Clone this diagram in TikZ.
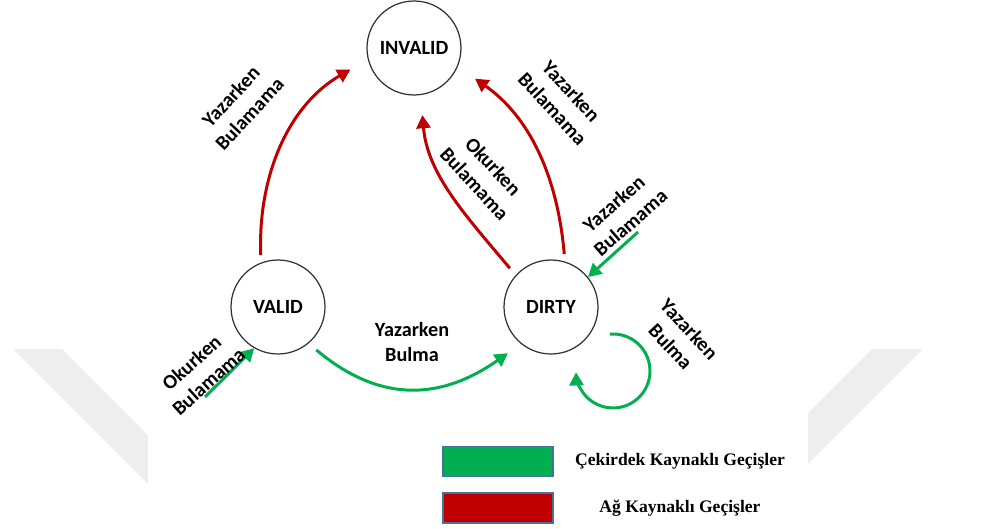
\documentclass[tikz,border=0pt]{standalone}
\usepackage{fontspec}
\setmainfont{Liberation Serif}
\newfontfamily\calib{Carlito}
\usetikzlibrary{arrows.meta,positioning}
\definecolor{netred}{RGB}{192,0,0}
\definecolor{coregreen}{RGB}{0,176,80}
\definecolor{legedge}{RGB}{65,113,156}
\definecolor{wmgray}{RGB}{238,238,238}

\begin{document}
\begin{tikzpicture}[
  x=0.02cm, y=0.02cm,
  statecirc/.style={circle, draw=black!80, line width=0.7pt, minimum size=1.88cm,
               inner sep=0pt, font=\calib\bfseries\fontsize{11.5}{13}\selectfont},
  lbl/.style={align=center, inner sep=0pt, font=\calib\bfseries\fontsize{11.5}{14.5}\selectfont},
  redarr/.style={-{Triangle[length=7.5pt, width=8pt]}, line width=1.7pt, netred},
  greenarr/.style={-{Triangle[length=7.5pt, width=8pt]}, line width=1.7pt, coregreen},
  legbox/.style={draw=legedge, line width=0.6pt, minimum width=2.2cm,
               minimum height=0.6cm, inner sep=0pt},
  legtext/.style={font=\bfseries\fontsize{10}{12}\selectfont}
]
  \useasboundingbox (0,0) rectangle (983,528);

  % watermark
  \fill[wmgray] (13,179) -- (62,179) -- (148,93) -- (148,44) -- cycle;
  \fill[wmgray] (872,179) -- (923,179) -- (808,64) -- (808,115) -- cycle;

  \node[statecirc] (invalid) at (414,480) {INVALID};
  \node[statecirc] (valid)   at (278,221) {VALID};
  \node[statecirc] (dirty)   at (551,221) {DIRTY};

  \coordinate (dirtyin) at (638,296);
  \coordinate (validin) at (205,131);
  \coordinate (loopc)   at (613,157);

  % network transitions
  \draw[redarr, shorten <=0.15cm, shorten >=0.4cm]
    (valid.111) to[out=92, in=210] (invalid.194);
  \draw[redarr, shorten <=0.15cm, shorten >=0.42cm]
    (dirty.73) to[out=95, in=-35] (invalid.-23);
  \draw[redarr, shorten <=0.18cm, shorten >=0.4cm]
    (dirty.138) to[out=130, in=-85] (invalid.-82);

  % core transitions
  \draw[greenarr] (dirtyin) -- (dirty.39);
  \draw[greenarr] (validin) -- (valid.-120);
  \draw[greenarr, shorten <=0.2cm, shorten >=0.32cm]
    (valid.-50) to[out=-40, in=-145, looseness=1.15] (dirty.-129);
  \draw[greenarr] ([shift={(95:37)}]loopc) arc[start angle=95, end angle=-178, radius=0.74cm];

  \node[lbl, rotate=47]  (l1) at (240,423) {Yazarken\\Bulamama};
  \node[lbl, rotate=-47] (l2) at (562,428) {Yazarken\\Bulamama};
  \node[lbl, rotate=-47] (l3) at (484,353) {Okurken\\Bulamama};
  \node[lbl, rotate=41]  (l4) at (622,315) {Yazarken\\Bulamama};
  \node[lbl, rotate=42]  (l5) at (200,156) {Okurken\\Bulamama};
  \node[lbl]             (l6) at (412,186) {Yazarken\\Bulma};
  \node[lbl, rotate=-47] (l7) at (680,190) {Yazarken\\Bulma};

  % legend
  \node[legbox, fill=coregreen] (leggreen) at (498,66.5) {};
  \node[legbox, fill=netred]    (legred)   at (498,20) {};
  \node[legtext] (txtgreen) at (680,67) {Çekirdek Kaynaklı Geçişler};
  \node[legtext] (txtred)   at (680,20) {Ağ Kaynaklı Geçişler};
\end{tikzpicture}
\end{document}
